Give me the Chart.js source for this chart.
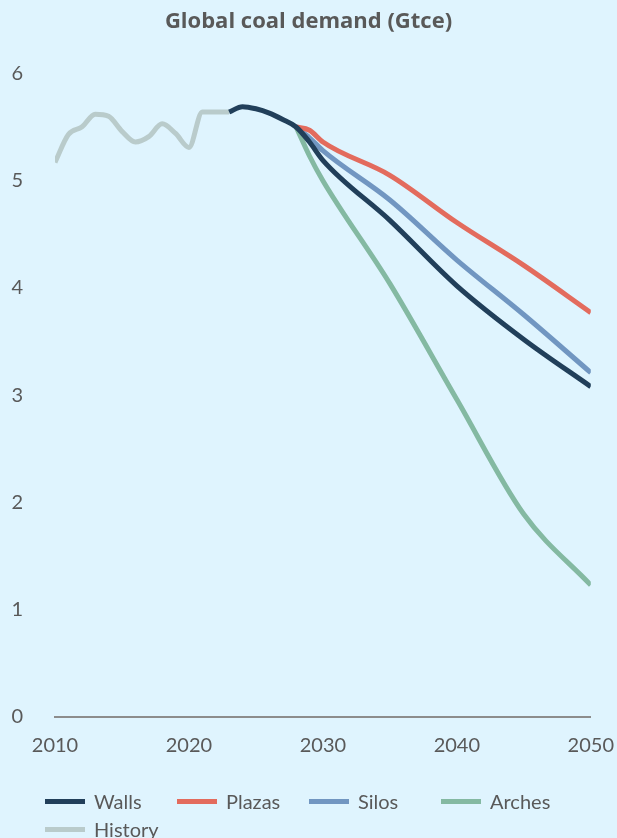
<!DOCTYPE html>
<html>
<head>
<meta charset="utf-8">
<title>Global coal demand (Gtce)</title>
<script src="https://cdn.jsdelivr.net/npm/chart.js@4/dist/chart.umd.min.js"></script>
<style>
  html, body { margin: 0; padding: 0; background: #dff4fe; overflow: hidden; }
  #wrap { position: relative; width: 617px; height: 838px; }
</style>
</head>
<body>
<div id="wrap"><canvas id="chart"></canvas></div>
<script>
// Historical demand, Gtce
const historyYears  = [2010, 2011, 2012, 2013, 2014, 2015, 2016, 2017, 2018, 2019, 2020, 2021, 2022, 2023];
const historyValues = [5.17, 5.43, 5.50, 5.62, 5.60, 5.46, 5.36, 5.41, 5.53, 5.44, 5.31, 5.64, 5.64, 5.64];

// Scenario projections, Gtce
const scenarioYears = [2023, 2024, 2025, 2026, 2027, 2028, 2029, 2030, 2035, 2040, 2045, 2050];
const wallsValues   = [5.64, 5.69, 5.67, 5.63, 5.57, 5.50, 5.36, 5.19, 4.63, 4.02, 3.52, 3.08];
const plazasValues  = [null, null, null, null, null, 5.50, 5.47, 5.36, 5.05, 4.61, 4.21, 3.77];
const silosValues   = [null, null, null, null, null, 5.50, 5.40, 5.28, 4.82, 4.26, 3.75, 3.21];
const archesValues  = [null, null, null, null, null, 5.50, 5.23, 5.00, 4.04, 2.96, 1.89, 1.23];

// Axis ticks
const xTicks = [2010, 2020, 2030, 2040, 2050];
const yTicks = [0, 1, 2, 3, 4, 5, 6];

function toPoints(years, values) {
  const pts = [];
  years.forEach((yr, i) => {
    if (values[i] !== null && values[i] !== undefined) pts.push({ x: yr, y: values[i] });
  });
  return pts;
}

const colors = {
  Walls:   '#213f5a',
  Plazas:  '#e36b5d',
  Silos:   '#7196c1',
  Arches:  '#84b9a2',
  History: '#b9cbcb'
};

const textColor = '#595959';
const fontFamily = 'Lato, "Open Sans", "Noto Sans", sans-serif';
const titleFamily = '"Open Sans", Lato, "Noto Sans", sans-serif';

function lineDataset(name, pts) {
  return {
    label: name,
    data: pts,
    borderColor: colors[name],
    backgroundColor: colors[name],
    borderWidth: 5,
    pointRadius: 0,
    pointHoverRadius: 0,
    cubicInterpolationMode: 'monotone',
    borderJoinStyle: 'round',
    borderCapStyle: 'butt',
    fill: false
  };
}

// Legend laid out in fixed-width columns under the axis
const columnLegend = {
  id: 'columnLegend',
  afterDraw(chart) {
    const ctx = chart.ctx;
    const startX = 45, colW = 132, perRow = 4;
    const rowY = [801.5, 829.5];
    const swW = 40, swH = 5, gap = 9;
    ctx.save();
    ctx.font = '20px ' + fontFamily;
    ctx.textBaseline = 'middle';
    ctx.textAlign = 'left';
    chart.data.datasets.forEach((ds, i) => {
      const col = i % perRow;
      const row = Math.floor(i / perRow);
      const x = startX + col * colW;
      const y = rowY[row];
      ctx.fillStyle = ds.borderColor;
      ctx.fillRect(x, y - swH / 2, swW, swH);
      ctx.fillStyle = textColor;
      ctx.fillText(ds.label, x + swW + gap, y + 1);
    });
    ctx.restore();
  }
};

new Chart(document.getElementById('chart'), {
  type: 'line',
  data: {
    datasets: [
      lineDataset('Walls',  toPoints(scenarioYears, wallsValues)),
      lineDataset('Plazas', toPoints(scenarioYears, plazasValues)),
      lineDataset('Silos',  toPoints(scenarioYears, silosValues)),
      lineDataset('Arches', toPoints(scenarioYears, archesValues)),
      lineDataset('History', toPoints(historyYears, historyValues))
    ]
  },
  options: {
    responsive: true,
    maintainAspectRatio: false,
    devicePixelRatio: 1,
    animation: false,
    events: [],
    layout: { padding: { left: 0, right: 0, top: 0, bottom: 77 } },
    plugins: {
      legend: { display: false },
      tooltip: { enabled: false },
      title: {
        display: true,
        text: 'Global coal demand (Gtce)',
        color: textColor,
        font: { family: titleFamily, size: 22, weight: 'bold', lineHeight: 1.2 },
        padding: { top: 9, bottom: 38 }
      }
    },
    scales: {
      x: {
        type: 'linear',
        min: xTicks[0],
        max: xTicks[xTicks.length - 1],
        afterBuildTicks(scale) { scale.ticks = xTicks.map(v => ({ value: v })); },
        ticks: {
          color: textColor,
          font: { family: fontFamily, size: 20, lineHeight: 1.2 },
          padding: 3,
          maxRotation: 0,
          callback: v => String(v)
        },
        grid: { display: false, drawTicks: true, tickLength: 14 },
        border: { display: true, color: '#8c8c8c', width: 2 }
      },
      y: {
        type: 'linear',
        min: yTicks[0],
        max: yTicks[yTicks.length - 1],
        afterBuildTicks(scale) { scale.ticks = yTicks.map(v => ({ value: v })); },
        afterFit(scale) { scale.width = 55; },
        ticks: {
          color: textColor,
          font: { family: fontFamily, size: 20, lineHeight: 1.2 },
          padding: 32,
          callback: v => String(v)
        },
        grid: { display: false, drawTicks: false },
        border: { display: false }
      }
    }
  },
  plugins: [columnLegend]
});
</script>
</body>
</html>
